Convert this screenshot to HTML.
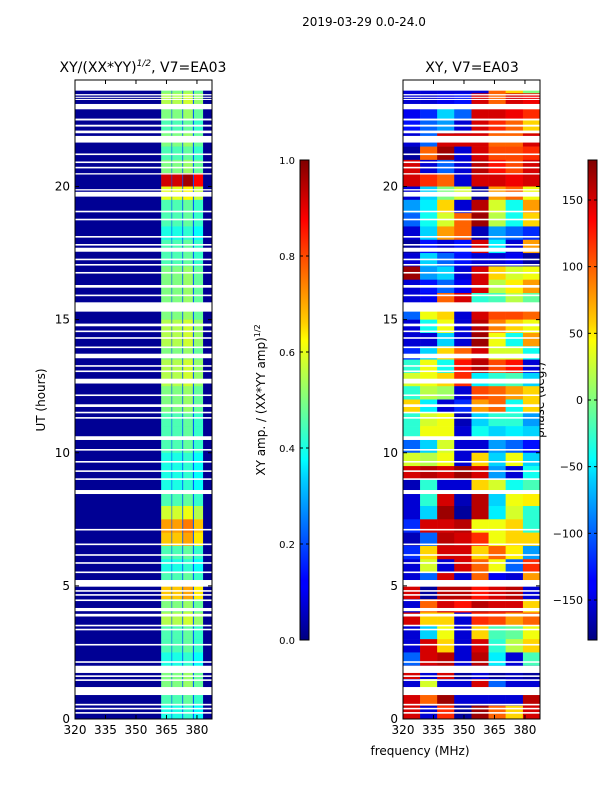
<!DOCTYPE html>
<html><head><meta charset="utf-8"><style>
body{margin:0;background:#fff;font-family:"DejaVu Sans",sans-serif}
svg text{font-family:"DejaVu Sans","Liberation Sans",sans-serif}
</style></head><body>
<svg id="fig" width="600" height="800" xmlns="http://www.w3.org/2000/svg">
<defs>
<linearGradient id="jetg" x1="0" y1="1" x2="0" y2="0">
<stop offset="0" stop-color="#000080"/><stop offset="0.11" stop-color="#0000ff"/><stop offset="0.125" stop-color="#0000ff"/><stop offset="0.34" stop-color="#00d4ff"/><stop offset="0.375" stop-color="#00ffff"/><stop offset="0.5" stop-color="#80ff80"/><stop offset="0.625" stop-color="#ffff00"/><stop offset="0.66" stop-color="#ffd000"/><stop offset="0.875" stop-color="#ff0000"/><stop offset="1" stop-color="#800000"/>
</linearGradient>
</defs>
<text x="364" y="26" font-size="12" text-anchor="middle">2019-03-29 0.0-24.0</text>
<text x="143" y="72" font-size="14" text-anchor="middle">XY/(XX*YY)<tspan font-size="9" font-style="italic" dy="-6">1/2</tspan><tspan dy="6">, V7=EA03</tspan></text>
<text x="472" y="72" font-size="14" text-anchor="middle">XY, V7=EA03</text>
<text transform="translate(45,400) rotate(-90)" font-size="12" text-anchor="middle">UT (hours)</text>
<text x="420" y="755" font-size="12" text-anchor="middle">frequency (MHz)</text>
<text transform="translate(265,400) rotate(-90)" font-size="12" text-anchor="middle">XY amp. / (XX*YY amp)<tspan font-size="8" dy="-5">1/2</tspan></text>
<text transform="translate(544,400) rotate(-90)" font-size="12" text-anchor="middle">phase (deg.)</text>
<g id="left"></g><g id="right"></g><g id="cb"></g>
</svg>
<script>
const hours=[0,5,10,15,20];
const freqTicks=[320,335,350,365,380];
const ampTicks=[0.0,0.2,0.4,0.6,0.8,1.0];
const phaseTicks=[-150,-100,-50,0,50,100,150];
// white gaps (flagged), hours [start,end]
const gaps=[[23.6,24],[23.42,23.47],[23.33,23.37],[23.25,23.29],[22.9,23.1],[22.48,22.55],[22.25,22.32],[22.0,22.1],[21.65,21.9],[21.18,21.24],[20.88,20.94],[20.68,20.74],[20.45,20.5],[19.85,19.9],[19.62,19.8],[19.03,19.09],[18.73,18.79],[18.08,18.14],[17.78,17.84],[17.55,17.7],[17.23,17.29],[17.03,17.09],[16.73,16.79],[16.2,16.3],[15.88,15.94],[15.3,15.65],[14.75,14.85],[14.53,14.59],[14.28,14.34],[13.93,13.99],[13.55,13.72],[13.23,13.29],[13.03,13.09],[12.6,12.78],[12.13,12.19],[11.72,11.82],[11.48,11.54],[11.28,11.34],[10.48,10.62],[10.08,10.14],[9.63,9.69],[9.28,9.34],[8.98,9.04],[8.45,8.6],[7.08,7.14],[6.53,6.59],[6.13,6.19],[5.83,5.89],[5.48,5.54],[4.97,5.22],[4.78,4.84],[4.63,4.69],[4.43,4.49],[4.05,4.17],[3.85,3.95],[3.48,3.54],[3.33,3.39],[2.76,2.82],[2.11,2.17],[1.73,2.0],[1.58,1.64],[1.43,1.49],[0.9,1.2],[0.51,0.57],[0.36,0.42],[0.2,0.26]];
// left panel: stripe edges (MHz), gains, per-row (0.5h, from 23.5 down to 0) levels
const stripeEdges=[[362.4,367.5],[367.8,372.8],[373.2,378.0],[378.5,383.0]];
const stripeGain=[1.0,1.0,1.05,0.95];
const stripeLevel=[0.5,0.55,0.5,0.45,0.5,0.45,0.5,0.92,0.6,0.45,0.45,0.4,0.45,0.45,0.5,0.5,0.5,0.5,0.55,0.55,0.5,0.55,0.55,0.5,0.5,0.45,0.45,0.45,0.4,0.4,0.4,0.45,0.58,0.72,0.68,0.45,0.4,0.45,0.68,0.5,0.55,0.45,0.45,0.4,0.5,0.5,0.45,0.4];
const bgAmp=0.02, gapAmp=0.2;
// right panel: phase (deg), 8 freq bins, rows from 23.5 down to 0
const phaseBins=[320,328.4,336.8,345.2,353.7,362.1,370.5,379,387.4];
const phase=[
[-150,-150,-150,-150,-150,100,60,0],[-150,-150,-140,-130,150,100,150,140],[-140,-120,-60,-100,150,150,140,120],[-130,-100,-80,-150,150,120,100,60],
[-150,-100,150,150,150,100,100,150],[-170,100,170,-150,150,110,110,120],[150,-150,-100,-150,160,130,110,150],[150,120,100,-150,150,150,140,150],
[-150,-60,0,30,-170,80,100,40],[-80,-50,60,-150,160,30,-40,80],[-100,-40,30,100,170,20,-40,60],[-150,-60,80,100,-160,-80,-100,-120],
[-170,-130,-150,-130,150,-50,-150,80],[-150,-60,-100,-130,-150,-150,-140,-170],[170,-80,-60,-150,150,60,30,40],[-150,-130,-100,-140,150,20,50,80],
[-150,-140,100,150,-30,-20,20,-10],[-100,40,60,-150,150,110,110,100],[-150,-40,40,-150,160,90,60,40],[-150,-150,-60,-150,170,40,-40,80],
[-120,-60,60,100,150,30,30,-40],[-30,40,-40,130,160,110,130,-150],[30,40,60,120,-50,-30,-20,-60],[-30,20,10,-150,110,100,80,60],
[60,-50,-150,-120,80,100,-40,60],[-30,30,40,-160,-60,-30,-30,-80],[-30,40,40,-150,-40,-60,-50,-60],[-100,-60,30,-150,-150,-80,-100,-130],
[30,20,40,-150,60,-60,40,-60],[150,160,150,170,150,-80,-150,-40],[-160,-30,-150,-150,60,30,-40,-20],[-150,-30,150,-160,160,-60,40,50],
[-150,-60,170,-170,160,-50,30,-30],[-120,150,150,160,40,40,60,-30],[-160,-100,160,150,120,40,60,60],[-120,60,150,150,60,100,50,-80],
[-150,30,-150,150,100,40,-100,120],[-150,-100,150,-150,100,-140,-150,80],[150,-170,160,160,130,150,160,-150],[-150,100,150,130,160,150,150,60],
[150,60,60,-150,120,110,80,100],[-150,-60,40,-150,60,-20,-10,40],[-150,150,60,-150,150,-30,20,60],[-100,150,160,-150,160,-50,-150,-20],
[150,-150,150,-170,-150,-170,-160,-170],[-150,30,-150,-150,150,-100,-150,-150],[150,100,170,-150,-150,-150,-150,160],[150,-150,120,-170,170,100,60,150]];

const NS="http://www.w3.org/2000/svg";
function jet(v){v=Math.max(0,Math.min(1,v));
 const r=Math.min(4*v-1.5,-4*v+4.5),g=Math.min(4*v-0.5,-4*v+3.5),b=Math.min(4*v+0.5,-4*v+2.5);
 const c=x=>Math.round(255*Math.max(0,Math.min(1,x)));return `rgb(${c(r)},${c(g)},${c(b)})`;}
const Y0=719,Y1=80,F0=320,F1=387.4;
const yS=h=>Y0-(h/24)*(Y0-Y1);
function mk(tag,attrs,parent){const e=document.createElementNS(NS,tag);for(const k in attrs)e.setAttribute(k,attrs[k]);parent.appendChild(e);return e;}
function panel(gid,x0,x1,drawCells){
 const g=document.getElementById(gid);
 const xS=f=>x0+(f-F0)/(F1-F0)*(x1-x0);
 drawCells(g,xS);
 gaps.forEach(gp=>{const r=mk('rect',{x:x0,y:yS(gp[1]),width:x1-x0,height:yS(gp[0])-yS(gp[1]),fill:'#fff'},g);
  
  });
 const fr=mk('rect',{x:x0,y:Y1,width:x1-x0,height:Y0-Y1,fill:'none',stroke:'#000','stroke-width':1},g);
 
 
 hours.forEach(h=>{const y=yS(h);
  mk('line',{x1:x0,x2:x0+4,y1:y,y2:y,stroke:'#000'},g);mk('line',{x1:x1,x2:x1-4,y1:y,y2:y,stroke:'#000'},g);
  const t=mk('text',{x:x0-5,y:y+4,'font-size':12,'text-anchor':'end'},g);t.textContent=h;
  
  });
 freqTicks.forEach(f=>{const x=xS(f);
  mk('line',{x1:x,x2:x,y1:Y0,y2:Y0-4,stroke:'#000'},g);mk('line',{x1:x,x2:x,y1:Y1,y2:Y1+4,stroke:'#000'},g);
  const t=mk('text',{x:x,y:Y0+15,'font-size':12,'text-anchor':'middle'},g);t.textContent=f;
  
  });
}
panel('left',75,212,(g,xS)=>{
 const bg=mk('rect',{x:75,y:Y1,width:137,height:Y0-Y1,fill:jet(bgAmp)},g);
 
 
 const gr=mk('rect',{x:xS(stripeEdges[0][0]),y:Y1,width:xS(stripeEdges[3][1])-xS(stripeEdges[0][0]),height:Y0-Y1,fill:jet(gapAmp)},g);
 
 
 stripeLevel.forEach((lv,i)=>{const hTop=24-i*0.5, hBot=hTop-0.5;
  stripeEdges.forEach((se,j)=>{
   const r=mk('rect',{x:xS(se[0]),y:yS(hTop),width:xS(se[1])-xS(se[0]),height:yS(hBot)-yS(hTop)+0.3,fill:jet(lv*stripeGain[j])},g);
   
   });});
});
panel('right',403,540,(g,xS)=>{
 phase.forEach((row,i)=>{const hTop=24-i*0.5,hBot=hTop-0.5;
  row.forEach((p,j)=>{
   const r=mk('rect',{x:xS(phaseBins[j]),y:yS(hTop),width:xS(phaseBins[j+1])-xS(phaseBins[j])+0.3,height:yS(hBot)-yS(hTop)+0.3,fill:jet((p+180)/360)},g);
   
   });});
});
// colorbars
const cb=document.getElementById('cb');
function colorbar(x,ticks,lo,hi,name,fmt){
 const r=mk('rect',{x:x,y:160,width:9,height:480,fill:'url(#jetg)',stroke:'#000','stroke-width':1},cb);
 
 
 ticks.forEach(v=>{const y=640-(v-lo)/(hi-lo)*480;
  mk('line',{x1:x,x2:x+3,y1:y,y2:y,stroke:'#000'},cb);mk('line',{x1:x+9,x2:x+6,y1:y,y2:y,stroke:'#000'},cb);
  const t=mk('text',{x:x-5,y:y+4,'font-size':fmt?10:11,'text-anchor':'end'},cb);t.textContent=fmt?v.toFixed(1):(v<0?'\u2212'+(-v):v);
  
  });
}
colorbar(300,ampTicks,0,1,'amp-colorbar',true);
colorbar(588,phaseTicks,-180,180,'phase-colorbar',false);
</script>
</body></html>
